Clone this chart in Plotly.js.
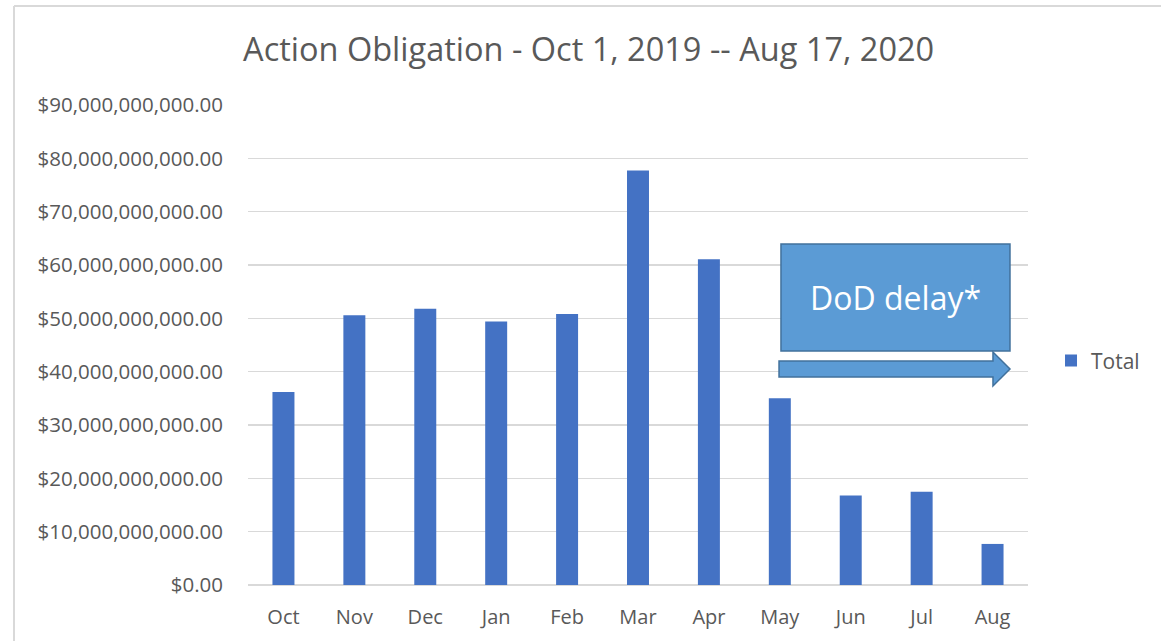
<!DOCTYPE html>
<html>
<head>
<meta charset="utf-8">
<script src="https://cdn.plot.ly/plotly-3.0.1.min.js"></script>
<style>
html,body{margin:0;padding:0;background:#fff;}
#chart{width:1161px;height:641px;}
</style>
</head>
<body>
<div id="chart"></div>
<script>
const months = ["Oct","Nov","Dec","Jan","Feb","Mar","Apr","May","Jun","Jul","Aug"];
const totals = [36.2e9, 50.6e9, 51.8e9, 49.4e9, 50.8e9, 77.7e9, 61.1e9, 35.0e9, 16.8e9, 17.5e9, 7.7e9];
const yTickVals = [0,10e9,20e9,30e9,40e9,50e9,60e9,70e9,80e9,90e9];
const yTickText = ["$0.00","$10,000,000,000.00","$20,000,000,000.00","$30,000,000,000.00","$40,000,000,000.00","$50,000,000,000.00","$60,000,000,000.00","$70,000,000,000.00","$80,000,000,000.00","$90,000,000,000.00"];
const seriesName = "Total";
const titleText = "Action Obligation - Oct 1, 2019 -- Aug 17, 2020";
const noteText = "DoD delay*";

const FONT = "Open Sans, Lato, sans-serif";
const TXT = "#595959";

const trace = {
  type: "bar",
  x: months,
  y: totals,
  name: seriesName,
  marker: {color: "#4472C4", line: {color: "#4472C4", width: 0}},
  showlegend: true,
  hoverinfo: "x+y"
};

const layout = {
  width: 1161, height: 641,
  margin: {l: 248, r: 133, t: 105, b: 56},
  paper_bgcolor: "#ffffff",
  plot_bgcolor: "#ffffff",
  bargap: 0.69,
  font: {family: FONT, color: TXT, size: 20},
  title: {
    text: titleText,
    font: {family: FONT, size: 32.5, color: TXT},
    x: 0.507, xref: "container", xanchor: "center",
    y: 0.923, yref: "container", yanchor: "middle"
  },
  xaxis: {
    type: "category",
    showgrid: false,
    showline: false,
    zeroline: false,
    ticks: "",
    tickfont: {family: FONT, size: 20, color: TXT},
    ticklabelstandoff: 18,
    fixedrange: true
  },
  yaxis: {
    range: [0, 90e9],
    tickmode: "array",
    tickvals: yTickVals,
    ticktext: yTickText,
    showgrid: true,
    gridcolor: "#D9D9D9",
    gridwidth: 1.5,
    zeroline: true,
    zerolinecolor: "#D9D9D9",
    zerolinewidth: 1.5,
    showline: false,
    ticks: "",
    tickfont: {family: FONT, size: 20.5, color: TXT},
    ticklabelstandoff: 24,
    fixedrange: true
  },
  legend: {
    x: 1.0295, xanchor: "left",
    y: 0.467, yanchor: "middle",
    font: {family: FONT, size: 21, color: TXT},
    bgcolor: "rgba(0,0,0,0)",
    itemwidth: 30
  },
  shapes: [
    {type: "line", xref: "paper", yref: "paper", x0: -0.3, x1: 1.2, y0: 1.206, y1: 1.206, line: {color: "#D9D9D9", width: 2}},
    {type: "line", xref: "paper", yref: "paper", x0: -0.3, x1: -0.3, y0: 1.206, y1: -0.15, line: {color: "#D9D9D9", width: 2}},
    {type: "rect", xref: "paper", yref: "paper", x0: 0.6833, x1: 0.9769, y0: 0.4875, y1: 0.7104,
     fillcolor: "#5B9BD5", line: {color: "#41719C", width: 1.5}},
    {type: "path", xref: "paper", yref: "paper",
     path: "M 0.6808 0.4667 L 0.9551 0.4667 L 0.9551 0.4854 L 0.9769 0.45 L 0.9551 0.4146 L 0.9551 0.4333 L 0.6808 0.4333 Z",
     fillcolor: "#5B9BD5", line: {color: "#41719C", width: 1.5}}
  ],
  annotations: [
    {xref: "paper", yref: "paper", x: 0.8301, y: 0.599, text: noteText, showarrow: false,
     font: {family: FONT, size: 32, color: "#ffffff"}, xanchor: "center", yanchor: "middle"}
  ]
};

Plotly.newPlot("chart", [trace], layout, {displayModeBar: false, staticPlot: true});
</script>
</body>
</html>
